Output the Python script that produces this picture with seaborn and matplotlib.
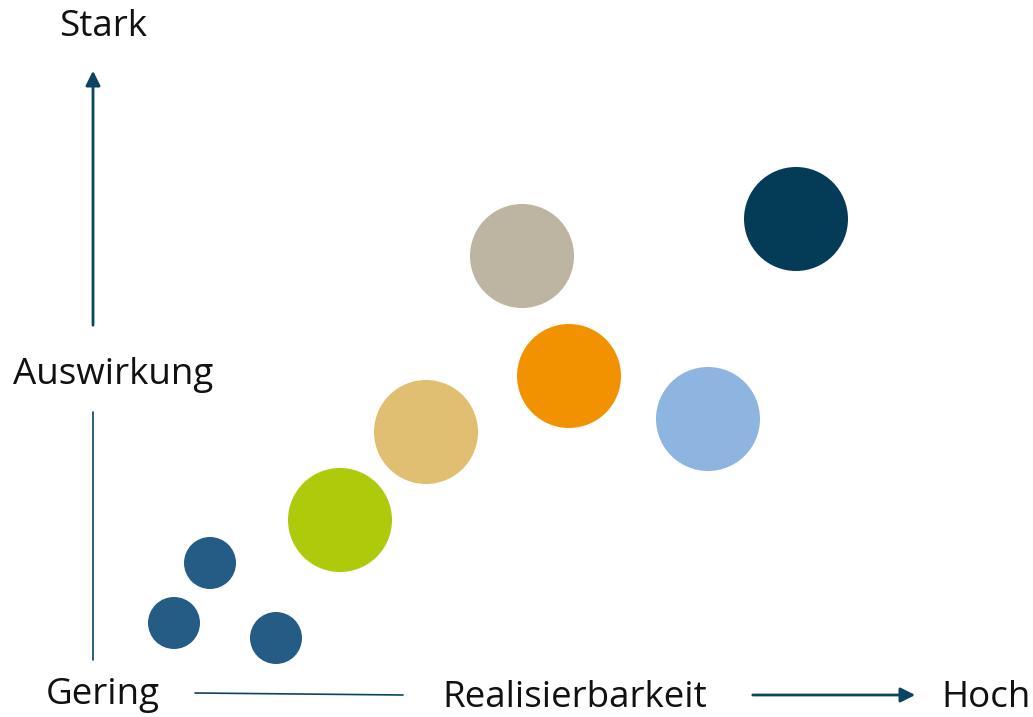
import matplotlib
matplotlib.use("Agg")
import matplotlib.pyplot as plt
import seaborn as sns
import pandas as pd

#### data ####
labels = ["A", "B", "C", "D", "E", "F", "G", "H", "I"]
realisierbarkeit = [174, 210, 276, 340, 426, 522, 569, 708, 796]
auswirkung = [94, 154, 79, 197, 285, 461, 341, 298, 498]
groesse = [52, 52, 52, 104, 104, 104, 104, 104, 104]  # diameter in px
farben = ["#255C85", "#255C85", "#255C85", "#AFCA0B", "#E0BF72",
          "#BEB4A2", "#F39200", "#8DB5E0", "#043B57"]

df = pd.DataFrame({"label": labels, "x": realisierbarkeit,
                   "y": auswirkung, "d": groesse})

sns.set_style("white")
plt.rcParams["font.family"] = ["Open Sans", "DejaVu Sans"]

W, H = 1033, 717
fig = plt.figure(figsize=(W / 100, H / 100), dpi=100)
ax = fig.add_axes([0, 0, 1, 1])
ax.set_xlim(0, W)
ax.set_ylim(0, H)
ax.axis("off")

# marker size in points^2 (1 px = 0.72 pt at dpi 100)
sizes = {lab: (d * 0.72) ** 2 for lab, d in zip(labels, groesse)}
sns.scatterplot(data=df, x="x", y="y", hue="label", palette=farben,
                size="label", sizes=sizes, legend=False,
                linewidth=0, ax=ax)

line_col = "#0B4461"
# vertical axis
ax.plot([93, 93], [H - 660, H - 412], color=line_col, lw=1.2)
ax.annotate("", xy=(93, H - 68), xytext=(93, H - 328),
            arrowprops=dict(arrowstyle="-|>", color=line_col, lw=2,
                            mutation_scale=22))
# horizontal axis
ax.plot([195, 403], [H - 693, H - 695], color=line_col, lw=1.2)
ax.annotate("", xy=(918, H - 695), xytext=(750, H - 695),
            arrowprops=dict(arrowstyle="-|>", color=line_col, lw=2,
                            mutation_scale=22))

fs = 26.5
tc = "#111111"
ax.text(103, H - 27, "Stark", ha="center", va="center", fontsize=fs, color=tc)
ax.text(113, H - 375, "Auswirkung", ha="center", va="center", fontsize=fs, color=tc)
ax.text(103, H - 695, "Gering", ha="center", va="center", fontsize=fs, color=tc)
ax.text(575, H - 698, "Realisierbarkeit", ha="center", va="center", fontsize=fs, color=tc)
ax.text(986, H - 698, "Hoch", ha="center", va="center", fontsize=fs, color=tc)

fig.savefig("out.png", dpi=100)
